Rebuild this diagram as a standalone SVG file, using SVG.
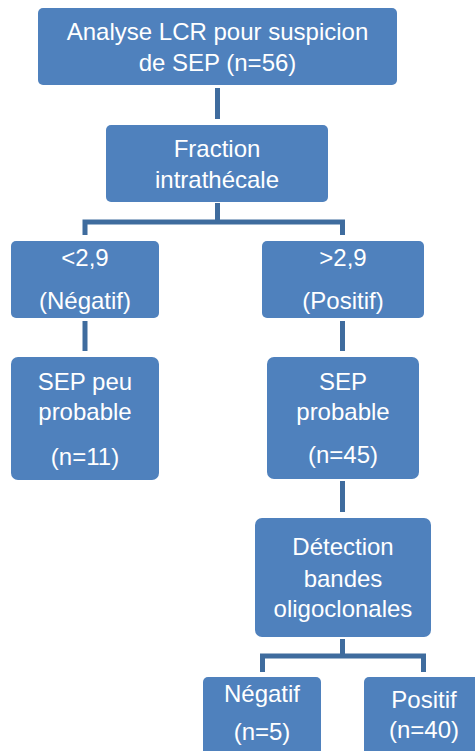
<svg xmlns="http://www.w3.org/2000/svg" width="475" height="751" viewBox="0 0 475 751">
<style>
.box{fill:#4F81BD;stroke:none}
.t{font-family:"Liberation Sans",Arial,sans-serif;font-size:24px;fill:#FFFFFF;text-anchor:middle}
.c{fill:none;stroke:#3F6C9E;stroke-width:5}
</style>
<rect width="475" height="751" fill="#FFFFFF"/>
<g id="connectors">
<path class="c" d="M217.5 88 V119"/>
<path class="c" d="M217.5 203 V222 M85 235 V222 H342.5 V235"/>
<path class="c" d="M85 321 V351"/>
<path class="c" d="M342.5 321 V351"/>
<path class="c" d="M342.5 481 V512"/>
<path class="c" d="M342.5 639 V656 M262.5 672 V656 H423.5 V672"/>
</g>
<g id="n1"><rect class="box" x="38" y="8" width="359" height="77" rx="5"/>
<text class="t" x="217.5" y="40">Analyse LCR pour suspicion</text>
<text class="t" x="217.5" y="71">de SEP (n=56)</text></g>
<g id="n2"><rect class="box" x="106" y="125" width="222" height="77" rx="5"/>
<text class="t" x="217" y="157">Fraction</text>
<text class="t" x="217" y="188">intrathécale</text></g>
<g id="n3"><rect class="box" x="11" y="241" width="148" height="77" rx="5"/>
<text class="t" x="85" y="266">&lt;2,9</text>
<text class="t" x="85" y="309">(Négatif)</text></g>
<g id="n4"><rect class="box" x="262" y="241" width="162" height="77" rx="5"/>
<text class="t" x="343" y="266">&gt;2,9</text>
<text class="t" x="343" y="309">(Positif)</text></g>
<g id="n5"><rect class="box" x="11" y="357" width="148" height="123" rx="7"/>
<text class="t" x="85" y="390">SEP peu</text>
<text class="t" x="85" y="420">probable</text>
<text class="t" x="85" y="465">(n=11)</text></g>
<g id="n6"><rect class="box" x="267" y="357" width="152" height="122" rx="7"/>
<text class="t" x="343" y="390">SEP</text>
<text class="t" x="343" y="420">probable</text>
<text class="t" x="343" y="463">(n=45)</text></g>
<g id="n7"><rect class="box" x="255" y="518" width="176" height="119" rx="7"/>
<text class="t" x="343" y="555">Détection</text>
<text class="t" x="343" y="587">bandes</text>
<text class="t" x="343" y="617">oligoclonales</text></g>
<g id="n8"><rect class="box" x="203" y="677" width="118" height="90" rx="5"/>
<text class="t" x="262" y="702">Négatif</text>
<text class="t" x="262" y="740">(n=5)</text></g>
<g id="n9"><rect class="box" x="364" y="677" width="130" height="90" rx="5"/>
<text class="t" x="424" y="708">Positif</text>
<text class="t" x="424" y="738">(n=40)</text></g>
</svg>
